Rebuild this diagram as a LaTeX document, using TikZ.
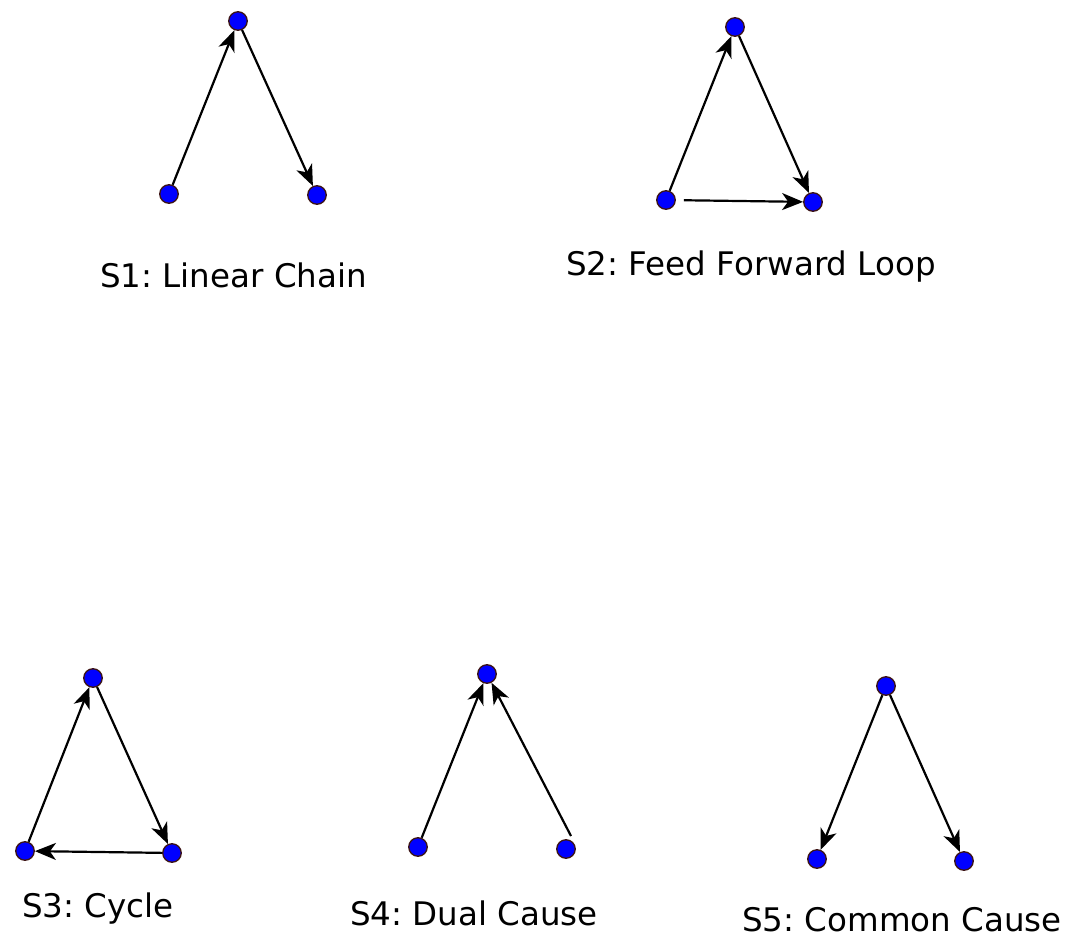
\documentclass[tikz,border=0pt]{standalone}
\usepackage{fontspec}
\setmainfont{DejaVu Sans}
\frenchspacing
\usetikzlibrary{arrows.meta}
\tikzset{
  vert/.style={circle, minimum size=18.5pt, inner sep=0pt, fill=blue, draw={rgb,255:red,60;green,20;blue,20}, line width=1.3pt},
  edge/.style={line width=2.2pt, -{Stealth[length=21pt,width=17pt,inset=6pt]}},
  lbl/.style={anchor=base, font=\fontsize{32.5pt}{36pt}\selectfont, inner sep=0pt}
}
\begin{document}
\begin{tikzpicture}[x=1pt,y=-1pt]
\useasboundingbox (0,0) rectangle (1080,937);
% S1
\node[vert] (a1) at (238,21) {};
\node[vert] (b1) at (169,194) {};
\node[vert] (c1) at (317,195) {};
\draw[edge] (b1) -- (a1);
\draw[edge] (a1) -- (c1);
\node[lbl] (l1) at (233.5,287) {S1: Linear Chain};
% S2
\node[vert] (a2) at (735,27) {};
\node[vert] (b2) at (666,200) {};
\node[vert] (c2) at (813,202) {};
\draw[edge] (b2) -- (a2);
\draw[edge] (a2) -- (c2);
\draw[edge, shorten <=8pt] (b2) -- (c2);
\node[lbl] (l2) at (751,275) {S2: Feed Forward Loop};
% S3
\node[vert] (a3) at (93,678) {};
\node[vert] (b3) at (25,851) {};
\node[vert] (c3) at (172,853) {};
\draw[edge] (b3) -- (a3);
\draw[edge] (a3) -- (c3);
\draw[edge] (c3) -- (b3);
\node[lbl] (l3) at (98,917) {S3: Cycle};
% S4
\node[vert] (a4) at (487,674) {};
\node[vert] (b4) at (418,847) {};
\node[vert] (c4) at (566,849) {};
\coordinate (s4) at (571,836);
\draw[edge] (b4) -- (a4);
\draw[edge] (s4) -- (a4);
\node[lbl] (l4) at (474,925) {S4: Dual Cause};
% S5
\node[vert] (a5) at (886,686) {};
\node[vert] (b5) at (817,859) {};
\node[vert] (c5) at (964,861) {};
\draw[edge] (a5) -- (b5);
\draw[edge] (a5) -- (c5);
\node[lbl] (l5) at (902,931.5) {S5: Common Cause};
\end{tikzpicture}
\end{document}
